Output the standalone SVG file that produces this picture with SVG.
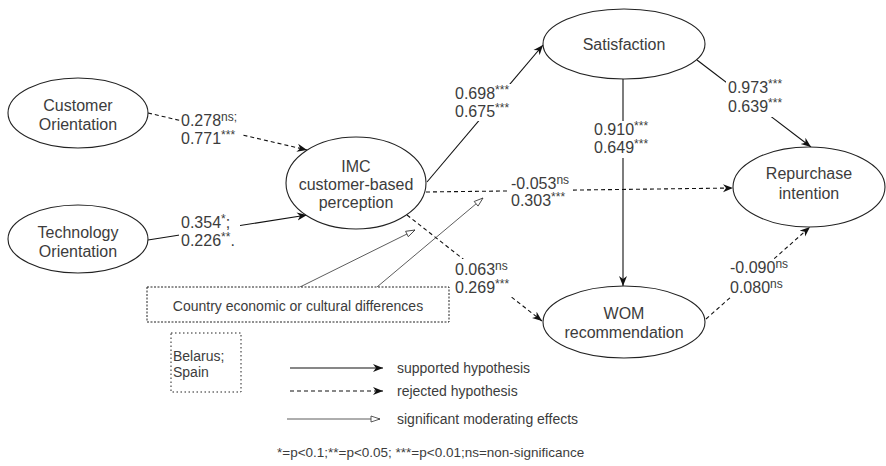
<svg xmlns="http://www.w3.org/2000/svg" width="886" height="466" viewBox="0 0 886 466">
<style>
text{font-family:"Liberation Sans",Arial,sans-serif;fill:#3c3c3c}
.n{font-size:16px;text-anchor:middle}
.l{font-size:16px}
.s{font-size:12px}
.g{font-size:14px}
.node{fill:#fff;stroke:#222;stroke-width:1.1}
.c{fill:none;stroke:#111;stroke-width:1.1}
.d{stroke-dasharray:4 3}
.m{fill:none;stroke:#333;stroke-width:0.8}
.bg{fill:#fff}
</style>
<defs>
<marker id="a" markerUnits="userSpaceOnUse" markerWidth="11" markerHeight="9" viewBox="0 0 11 9" refX="10" refY="4.5" orient="auto">
<path d="M0,0.5 L10,4.5 L0,8.5 L3,4.5 Z" fill="#111"/>
</marker>
<marker id="o" markerUnits="userSpaceOnUse" markerWidth="12" markerHeight="10" viewBox="-1 -1 12 10" refX="9" refY="4" orient="auto">
<path d="M0,1 L9,4 L0,7 Z" fill="#fff" stroke="#333" stroke-width="0.8"/>
</marker>
</defs>
<g id="connectors">
<path class="c d" d="M148,113 L307,150" marker-end="url(#a)"/>
<path class="c" d="M148,240 L307,215" marker-end="url(#a)"/>
<path class="c" d="M427,182 L543,45" marker-end="url(#a)"/>
<path class="c d" d="M426,192 L733,188" marker-end="url(#a)"/>
<path class="c" d="M623,79 L623,286" marker-end="url(#a)"/>
<path class="c" d="M697,60 L811,147" marker-end="url(#a)"/>
<path class="c d" d="M407,215 L542,321" marker-end="url(#a)"/>
<path class="c d" d="M706,319 L810,227" marker-end="url(#a)"/>
<path class="m" d="M300,287 L415,230" marker-end="url(#o)"/>
<path class="m" d="M377,287 L483,198" marker-end="url(#o)"/>
</g>
<g id="node-customer">
<ellipse class="node" cx="78" cy="113" rx="70" ry="35"/>
<text class="n" x="78" y="111">Customer</text>
<text class="n" x="78" y="130">Orientation</text>
</g>
<g id="node-technology">
<ellipse class="node" cx="78" cy="239" rx="70" ry="34"/>
<text class="n" x="78" y="238">Technology</text>
<text class="n" x="78" y="257">Orientation</text>
</g>
<g id="node-imc">
<ellipse class="node" cx="356" cy="183" rx="70" ry="46"/>
<text class="n" x="356" y="172">IMC</text>
<text class="n" x="356" y="190">customer-based</text>
<text class="n" x="356" y="208">perception</text>
</g>
<g id="node-satisfaction">
<ellipse class="node" cx="624" cy="44" rx="81" ry="35"/>
<text class="n" x="624" y="50">Satisfaction</text>
</g>
<g id="node-repurchase">
<ellipse class="node" cx="809" cy="187" rx="76" ry="40"/>
<text class="n" x="809" y="179">Repurchase</text>
<text class="n" x="809" y="199">intention</text>
</g>
<g id="node-wom">
<ellipse class="node" cx="624" cy="322" rx="81" ry="36"/>
<text class="n" x="624" y="319">WOM</text>
<text class="n" x="624" y="338">recommendation</text>
</g>
<g id="node-country">
<rect x="147" y="287" width="302" height="35" fill="#fff" stroke="#222" stroke-width="1" stroke-dasharray="2 1.5"/>
<text class="g" x="298" y="311" text-anchor="middle">Country economic or cultural differences</text>
</g>
<g id="labels">
<rect class="bg" x="180" y="112" width="62" height="36"/>
<text class="l" x="181" y="126">0.278<tspan class="s" dy="-5">ns;</tspan></text>
<text class="l" x="181" y="144">0.771<tspan class="s" dy="-5">***</tspan></text>
<rect class="bg" x="179" y="214" width="61" height="36"/>
<text class="l" x="181" y="228">0.354<tspan class="s" dy="-5">*</tspan><tspan dy="5">;</tspan></text>
<text class="l" x="181" y="246">0.226<tspan class="s" dy="-5">**</tspan><tspan dy="5">.</tspan></text>
<rect class="bg" x="453" y="84" width="60" height="37"/>
<text class="l" x="455" y="99">0.698<tspan class="s" dy="-5">***</tspan></text>
<text class="l" x="455" y="117">0.675<tspan class="s" dy="-5">***</tspan></text>
<rect class="bg" x="509" y="175" width="63" height="35"/>
<text class="l" x="511" y="189">-0.053<tspan class="s" dy="-5">ns</tspan></text>
<text class="l" x="511" y="206">0.303<tspan class="s" dy="-5">***</tspan></text>
<rect class="bg" x="592" y="121" width="62" height="37"/>
<text class="l" x="594" y="135">0.910<tspan class="s" dy="-5">***</tspan></text>
<text class="l" x="594" y="153">0.649<tspan class="s" dy="-5">***</tspan></text>
<rect class="bg" x="726" y="80" width="62" height="37"/>
<text class="l" x="728" y="93">0.973<tspan class="s" dy="-5">***</tspan></text>
<text class="l" x="728" y="112">0.639<tspan class="s" dy="-5">***</tspan></text>
<rect class="bg" x="453" y="259" width="62" height="38"/>
<text class="l" x="455" y="275">0.063<tspan class="s" dy="-5">ns</tspan></text>
<text class="l" x="455" y="293">0.269<tspan class="s" dy="-5">***</tspan></text>
<rect class="bg" x="728" y="259" width="62" height="38"/>
<text class="l" x="730" y="273">-0.090<tspan class="s" dy="-5">ns</tspan></text>
<text class="l" x="730" y="293">0.080<tspan class="s" dy="-5">ns</tspan></text>
</g>
<g id="legend">
<rect x="171" y="333" width="70" height="59" fill="none" stroke="#222" stroke-width="1" stroke-dasharray="1.5 2.5"/>
<text class="g" x="173" y="361">Belarus;</text>
<text class="g" x="173" y="377">Spain</text>
<path class="c" d="M290,368 L383,368" marker-end="url(#a)"/>
<text class="g" x="397" y="373">supported hypothesis</text>
<path class="c d" d="M290,391 L383,391" marker-end="url(#a)"/>
<text class="g" x="397" y="396">rejected hypothesis</text>
<path class="m" d="M287,419 L380,419" marker-end="url(#o)"/>
<text class="g" x="397" y="424">significant moderating effects</text>
<text x="277" y="457" style="font-size:13.5px">*=p&lt;0.1;**=p&lt;0.05; ***=p&lt;0.01;ns=non-significance</text>
</g>
</svg>
